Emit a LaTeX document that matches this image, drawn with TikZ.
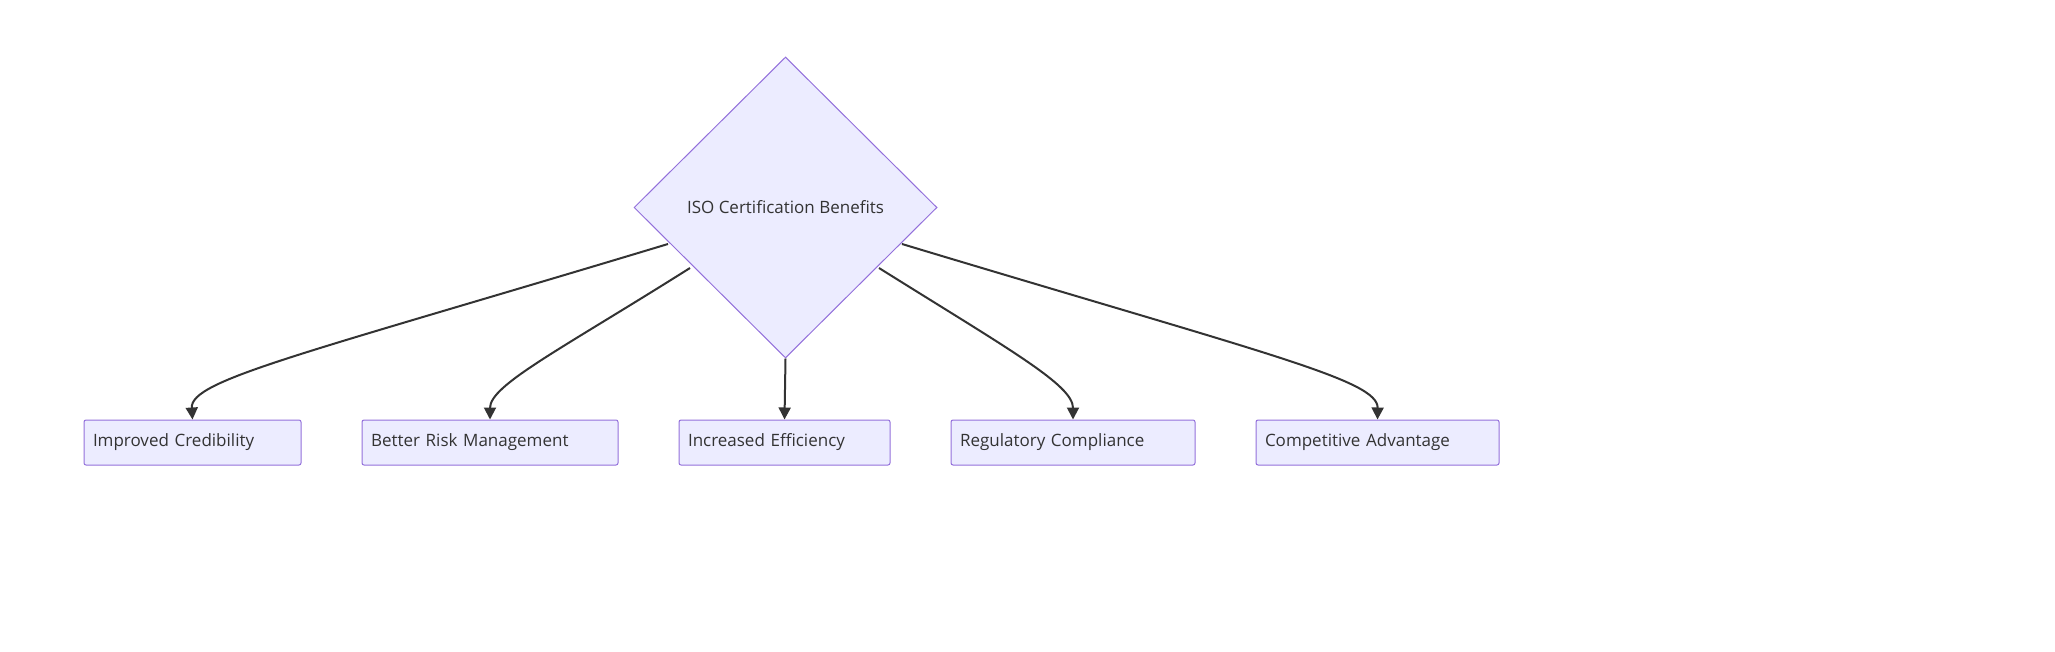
\documentclass[tikz,border=0pt]{standalone}
\usepackage{fontspec}
\setmainfont{Open Sans}
\usetikzlibrary{shapes.geometric,arrows.meta}
\definecolor{nfill}{HTML}{ECECFF}
\definecolor{nline}{HTML}{9370DB}
\definecolor{eline}{HTML}{333333}
\begin{document}
\begin{tikzpicture}[x=1pt,y=1pt,
  box/.style={draw=nline,fill=nfill,line width=1pt,rounded corners=2pt,minimum height=45pt,inner xsep=9pt,align=left,font=\fontsize{17}{20}\selectfont,text=eline,anchor=center},
  arr/.style={draw=eline,line width=2pt,-{Triangle[length=12pt,width=12pt]}}]
\useasboundingbox (0,0) rectangle (2055,-652);
\node[draw=nline,fill=nfill,line width=1pt,diamond,minimum width=303pt,minimum height=301pt,inner sep=0pt,font=\fontsize{17}{20}\selectfont,text=eline] (d) at (785.5,-207.5) {ISO Certification Benefits};
\node[box,text width=199pt] (b1) at (192.5,-442.5) {Improved Credibility};
\node[box,text width=238pt] (b2) at (490,-442.5) {Better Risk Management};
\node[box,text width=193pt] (b3) at (784.5,-442.5) {Increased Efficiency};
\node[box,text width=226pt] (b4) at (1073,-442.5) {Regulatory Compliance};
\node[box,text width=225pt] (b5) at (1377.5,-442.5) {Competitive Advantage};
\coordinate (s1) at (668,-244);
\coordinate (s2) at (690,-268);
\coordinate (s4) at (879,-268);
\coordinate (s5) at (902,-244);
\draw[arr] (s1) .. controls (300,-355) and (190,-380) .. (b1.north);
\draw[arr] (s2) .. controls (560,-350) and (490,-385) .. (b2.north);
\draw[arr] (d.south) -- (b3.north);
\draw[arr] (s4) .. controls (1010,-350) and (1073,-385) .. (b4.north);
\draw[arr] (s5) .. controls (1270,-355) and (1378,-380) .. (b5.north);
\end{tikzpicture}
\end{document}
